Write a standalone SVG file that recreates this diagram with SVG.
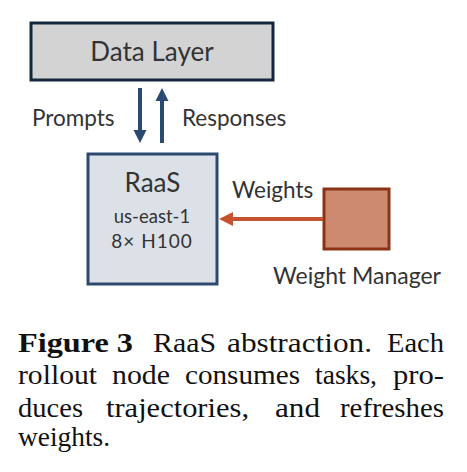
<svg xmlns="http://www.w3.org/2000/svg" width="467" height="472" viewBox="0 0 467 472">
<style>
.sans{font-family:Lato,"Open Sans","DejaVu Sans",sans-serif;fill:#333333}
.cap{font-family:"Liberation Serif","Times New Roman",serif;font-size:27.5px;fill:#111111}
.b{font-weight:bold}
.nav{fill:#2b4a70}
</style>
<rect width="467" height="472" fill="#ffffff"/>
<g id="data-layer">
<rect x="31" y="23" width="242" height="57" fill="#d3d3d3" stroke="#13283a" stroke-width="3"/>
<text class="sans" x="152" y="61" font-size="26" text-anchor="middle">Data Layer</text>
</g>
<g id="raas">
<rect x="88" y="154" width="129" height="130" fill="#dce1e8" stroke="#2c4a6e" stroke-width="3"/>
<text class="sans" x="152.5" y="192" font-size="26" text-anchor="middle">RaaS</text>
<text class="sans" x="152" y="223" font-size="18.5" text-anchor="middle" fill="#555">us-east-1</text>
<text class="sans" x="152" y="248" font-size="19" text-anchor="middle" fill="#555" letter-spacing="1">8× H100</text>
</g>
<g id="weight-manager">
<rect x="324" y="189" width="65" height="60" fill="#cd8a70" stroke="#8a3415" stroke-width="3"/>
<text class="sans" x="273" y="284" font-size="23">Weight Manager</text>
</g>
<g id="connectors">
<line x1="140" y1="88" x2="140" y2="131" stroke="#2b4a70" stroke-width="4"/>
<polygon class="nav" points="133.5,130 146.5,130 140,143"/>
<line x1="162" y1="101" x2="162" y2="143" stroke="#2b4a70" stroke-width="4"/>
<polygon class="nav" points="155.5,101 168.5,101 162,88"/>
<text class="sans" x="32" y="126" font-size="22.5" fill="#555">Prompts</text>
<text class="sans" x="182" y="126" font-size="22.5" fill="#555">Responses</text>
<line x1="323" y1="219" x2="232" y2="219" stroke="#c4532f" stroke-width="4"/>
<polygon fill="#c4532f" points="219,219 233,212 233,226"/>
<text class="sans" x="232" y="198" font-size="22.5" fill="#555">Weights</text>
</g>
<g id="caption">
<text class="cap b" x="18" y="352" textLength="115" lengthAdjust="spacingAndGlyphs">Figure 3</text>
<text class="cap" x="153" y="352" textLength="63" lengthAdjust="spacingAndGlyphs">RaaS</text>
<text class="cap" x="227" y="352" textLength="145" lengthAdjust="spacingAndGlyphs">abstraction.</text>
<text class="cap" x="387" y="352" textLength="57" lengthAdjust="spacingAndGlyphs">Each</text>
<text class="cap" x="18" y="384" textLength="79" lengthAdjust="spacingAndGlyphs">rollout</text>
<text class="cap" x="112" y="384" textLength="58" lengthAdjust="spacingAndGlyphs">node</text>
<text class="cap" x="185" y="384" textLength="115" lengthAdjust="spacingAndGlyphs">consumes</text>
<text class="cap" x="315" y="384" textLength="62" lengthAdjust="spacingAndGlyphs">tasks,</text>
<text class="cap" x="393" y="384" textLength="51" lengthAdjust="spacingAndGlyphs">pro-</text>
<text class="cap" x="18" y="417" textLength="65" lengthAdjust="spacingAndGlyphs">duces</text>
<text class="cap" x="106" y="417" textLength="143" lengthAdjust="spacingAndGlyphs">trajectories,</text>
<text class="cap" x="275" y="417" textLength="45" lengthAdjust="spacingAndGlyphs">and</text>
<text class="cap" x="340" y="417" textLength="104" lengthAdjust="spacingAndGlyphs">refreshes</text>
<text class="cap" x="18" y="446" textLength="92" lengthAdjust="spacingAndGlyphs">weights.</text>
</g>
</svg>
